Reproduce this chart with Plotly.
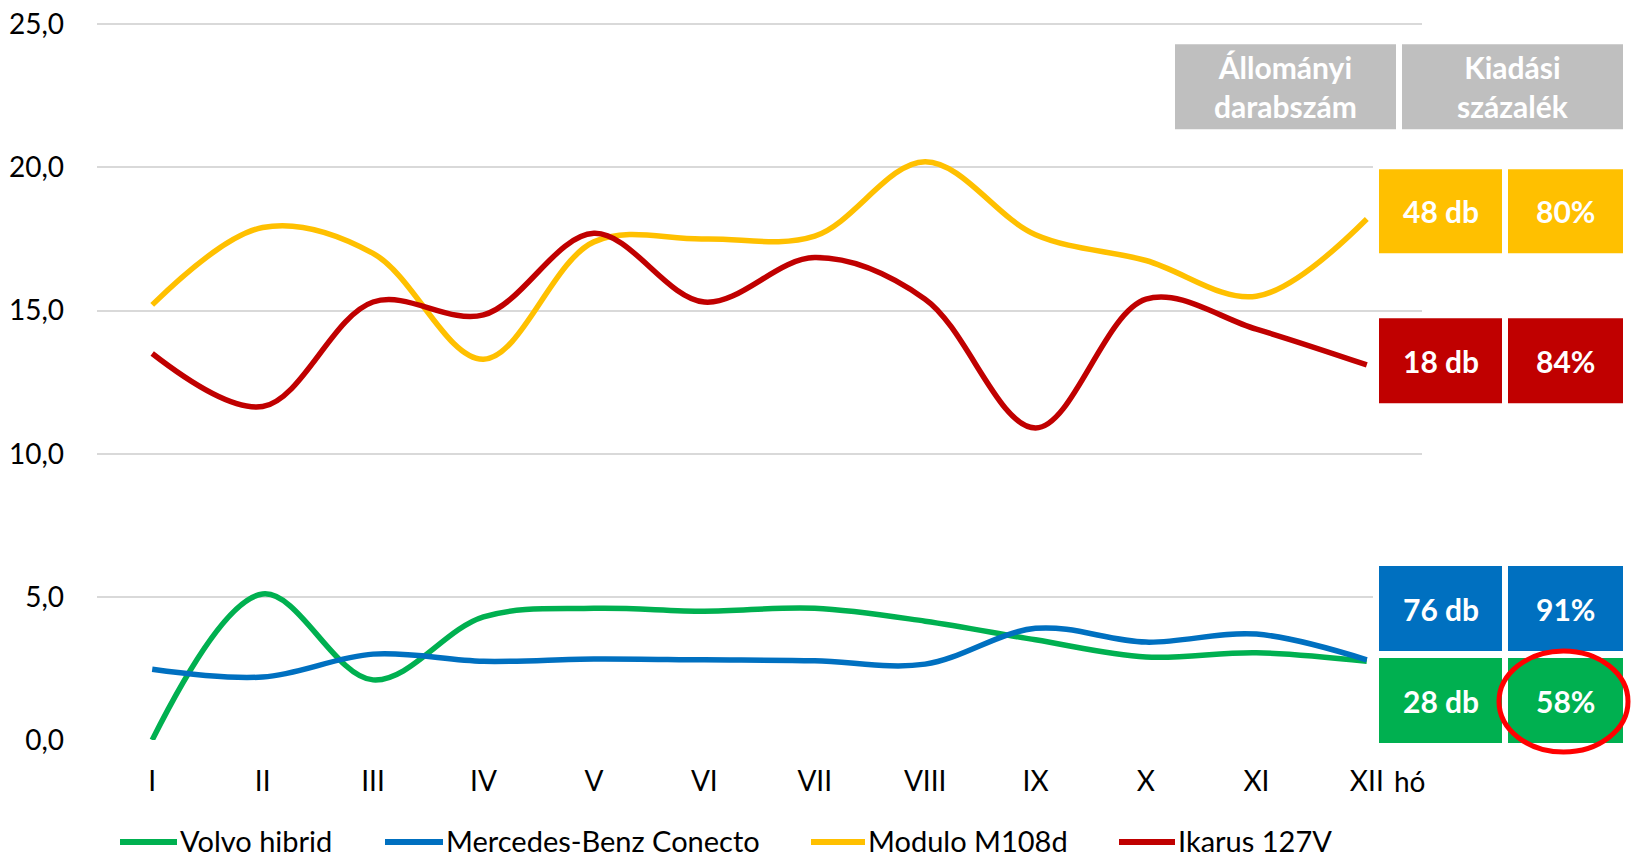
import plotly.graph_objects as go

months = ["I", "II", "III", "IV", "V", "VI", "VII", "VIII", "IX", "X", "XI", "XII"]
series_names = ["Volvo hibrid", "Mercedes-Benz Conecto", "Modulo M108d", "Ikarus 127V"]
volvo = [0.0, 5.1, 2.1, 4.3, 4.6, 4.5, 4.6, 4.15, 3.5, 2.9, 3.05, 2.75]
mercedes = [2.47, 2.2, 3.0, 2.75, 2.83, 2.8, 2.77, 2.65, 3.9, 3.42, 3.7, 2.8]
modulo = [15.2, 17.9, 17.0, 13.3, 17.4, 17.5, 17.6, 20.2, 17.65, 16.75, 15.5, 18.2]
ikarus = [13.5, 11.65, 15.3, 14.85, 17.7, 15.3, 16.85, 15.4, 10.9, 15.4, 14.35, 13.1]
colors = ["#00B050", "#0070C0", "#FFC000", "#C00000"]
y_ticks = [0, 5, 10, 15, 20, 25]

# side table
table_headers = ["Állományi<br>darabszám", "Kiadási<br>százalék"]
table_order = ["Modulo M108d", "Ikarus 127V", "Mercedes-Benz Conecto", "Volvo hibrid"]
table_counts = [48, 18, 76, 28]
table_pcts = [80, 84, 91, 58]
highlight = "Volvo hibrid"

W, H = 1633, 858
Y_MAX = 25.15
L, R, B = 97, 1422, 740
T = B - (B - 24) * Y_MAX / 25.0
FONT = "Lato, 'Noto Sans', sans-serif"


def px(x):
    return (x - L) / (R - L)


def py(y):
    return (B - y) / (B - T)


fig = go.Figure()
all_series = [volvo, mercedes, modulo, ikarus]
for name, vals, col in zip(series_names, all_series, colors):
    fig.add_trace(go.Scatter(
        x=months, y=vals, name=name, mode="lines",
        line=dict(color=col, width=5.5, shape="spline", smoothing=1.0),
        showlegend=False,
    ))

under_shapes = []
shapes = []
annotations = []

# header boxes
header_x = [(1175, 1396), (1402, 1623)]
for (x0, x1), txt in zip(header_x, table_headers):
    shapes.append(dict(type="rect", xref="paper", yref="paper",
                       x0=px(x0), x1=px(x1), y0=py(129), y1=py(44),
                       fillcolor="#BFBFBF", line=dict(width=0), layer="above"))
    annotations.append(dict(xref="paper", yref="paper", x=px((x0 + x1) / 2), y=py(86.5),
                            text=txt, showarrow=False, xanchor="center", yanchor="middle",
                            font=dict(family=FONT, size=30, color="white", weight="bold")))

row_y = [(169, 253), (318, 403), (566, 651), (658, 743)]
col_x = [(1379, 1502), (1508, 1623)]
color_of = dict(zip(series_names, colors))
for name, (y0, y1), cnt, pct in zip(table_order, row_y, table_counts, table_pcts):
    col = color_of[name]
    # white margin around the row of boxes
    under_shapes.append(dict(type="rect", xref="paper", yref="paper",
                             x0=px(col_x[0][0] - 6), x1=px(col_x[1][1] + 6),
                             y0=py(y1 + 4), y1=py(y0 - 4),
                             fillcolor="white", line=dict(width=0), layer="above"))
    for (x0, x1), txt in zip(col_x, [f"{cnt} db", f"{pct}%"]):
        shapes.append(dict(type="rect", xref="paper", yref="paper",
                           x0=px(x0), x1=px(x1), y0=py(y1), y1=py(y0),
                           fillcolor=col, line=dict(width=0), layer="above"))
        annotations.append(dict(xref="paper", yref="paper", x=px((x0 + x1) / 2), y=py((y0 + y1) / 2),
                                text=txt, showarrow=False, xanchor="center", yanchor="middle",
                                font=dict(family=FONT, size=30, color="white", weight="bold")))
    if name == highlight:
        shapes.append(dict(type="circle", xref="paper", yref="paper",
                           x0=px(1499), x1=px(1628), y0=py(752), y1=py(651),
                           line=dict(color="#FF0000", width=5), layer="above"))

# "hó" axis unit label
annotations.append(dict(xref="paper", yref="paper", x=px(1410), y=py(781),
                        text="hó", showarrow=False, xanchor="center", yanchor="middle",
                        font=dict(family=FONT, size=28, color="black")))

# legend
leg_sym = [(120, 177), (385, 443), (811, 865), (1119, 1175)]
for name, col, (x0, x1) in zip(series_names, colors, leg_sym):
    shapes.append(dict(type="line", xref="paper", yref="paper",
                       x0=px(x0), x1=px(x1), y0=py(842), y1=py(842),
                       line=dict(color=col, width=6)))
    annotations.append(dict(xref="paper", yref="paper", x=px(x1 + 1), y=py(841),
                            text=name, showarrow=False, xanchor="left", yanchor="middle",
                            font=dict(family=FONT, size=29, color="black")))

fig.update_layout(
    width=W, height=H,
    margin=dict(l=L, r=W - R, t=T, b=H - B, pad=0),
    paper_bgcolor="white", plot_bgcolor="white",
    separators=", ",
    shapes=under_shapes + shapes, annotations=annotations,
    font=dict(family=FONT, size=28, color="black"),
    xaxis=dict(type="category", range=[-0.5, 11.5], showgrid=False, zeroline=False,
               showline=False, ticks="", tickfont=dict(size=28), ticklabelstandoff=22,
               automargin=False),
    yaxis=dict(range=[0, Y_MAX], tickvals=y_ticks, tickformat=".1f", showgrid=True,
               gridcolor="#D9D9D9", gridwidth=1.5, zeroline=False, showline=False,
               ticks="", tickfont=dict(size=28), ticklabelstandoff=32,
               automargin=False),
)

fig.write_html("out.html", config={"displayModeBar": False},
               post_script="document.body.style.margin='0';document.body.style.overflow='hidden';")
